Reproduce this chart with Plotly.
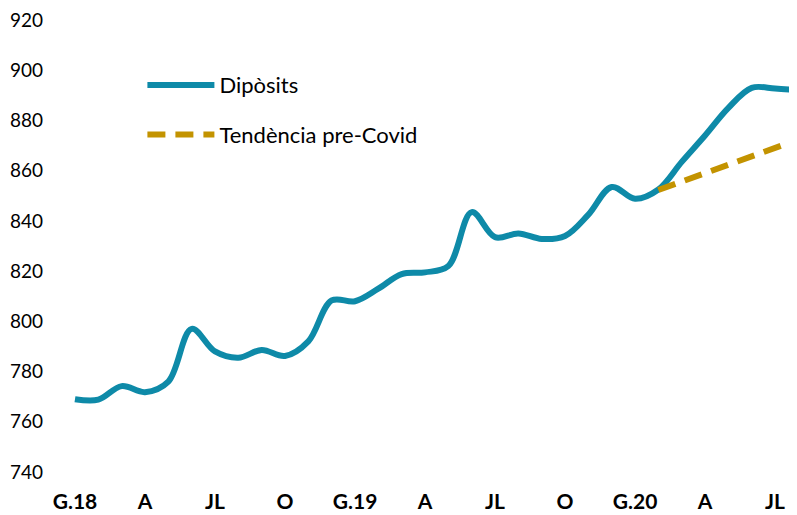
import plotly.graph_objects as go

months = [f"{y}-{m:02d}" for y in (2018, 2019, 2020) for m in range(1, 13)][:32]

diposits = [769.0, 768.8, 774.2, 771.8, 776.0, 797.0, 788.0, 785.5, 788.6, 786.2,
            792.0, 808.3, 808.0, 813.0, 818.8, 819.5, 822.0, 843.5, 833.5, 835.0,
            832.8, 834.0, 842.5, 853.5, 848.8, 852.5, 863.5, 874.0, 885.0, 893.0,
            892.7, 892.0]

tendencia = [None] * 25 + [852.3, 855.6, 859.0, 862.3, 865.7, 869.0, 872.4]

tick_months = months[0:32:3]
tick_labels = ["G.18", "A", "JL", "O", "G.19", "A", "JL", "O", "G.20", "A", "JL"]

BLUE = "#0E8AA8"
GOLD = "#C39300"
FONT = "Lato"

fig = go.Figure()
fig.add_trace(go.Scatter(
    x=months, y=diposits, name="Dipòsits", mode="lines",
    line=dict(color=BLUE, width=6, shape="spline", smoothing=1.0),
    legend="legend", showlegend=True,
))
fig.add_trace(go.Scatter(
    x=months, y=tendencia, name="Tendència pre-Covid", mode="lines",
    line=dict(color=GOLD, width=6, dash="18px,10px"),
    legend="legend2", showlegend=True,
))

fig.update_layout(
    width=789, height=507,
    margin=dict(l=42, r=0, t=12, b=43),
    paper_bgcolor="white", plot_bgcolor="white",
    showlegend=True,
    font=dict(family=FONT, size=19, color="black"),
    legend=dict(x=0.1237, y=0.856, xanchor="left", yanchor="middle",
                bgcolor="rgba(0,0,0,0)", itemwidth=67,
                font=dict(family=FONT, size=22, color="black")),
    legend2=dict(x=0.1237, y=0.746, xanchor="left", yanchor="middle",
                 bgcolor="rgba(0,0,0,0)", itemwidth=67,
                 font=dict(family=FONT, size=22, color="black")),
    xaxis=dict(type="category", range=[-1.07, 30.94], automargin=False,
               tickmode="array", tickvals=tick_months, ticktext=tick_labels,
               showgrid=False, zeroline=False, showline=False, ticks="",
               tickfont=dict(family=FONT, size=21, color="black", weight="bold"),
               ticklabelstandoff=15, ticklabeloverflow="allow"),
    yaxis=dict(range=[740, 920], tickmode="array", automargin=False,
               tickvals=list(range(740, 921, 20)),
               showgrid=False, zeroline=False, showline=False, ticks="",
               tickfont=dict(family=FONT, size=19, color="black"),
               ticklabelstandoff=6, ticklabeloverflow="allow"),
)

fig.write_html("out.html")
